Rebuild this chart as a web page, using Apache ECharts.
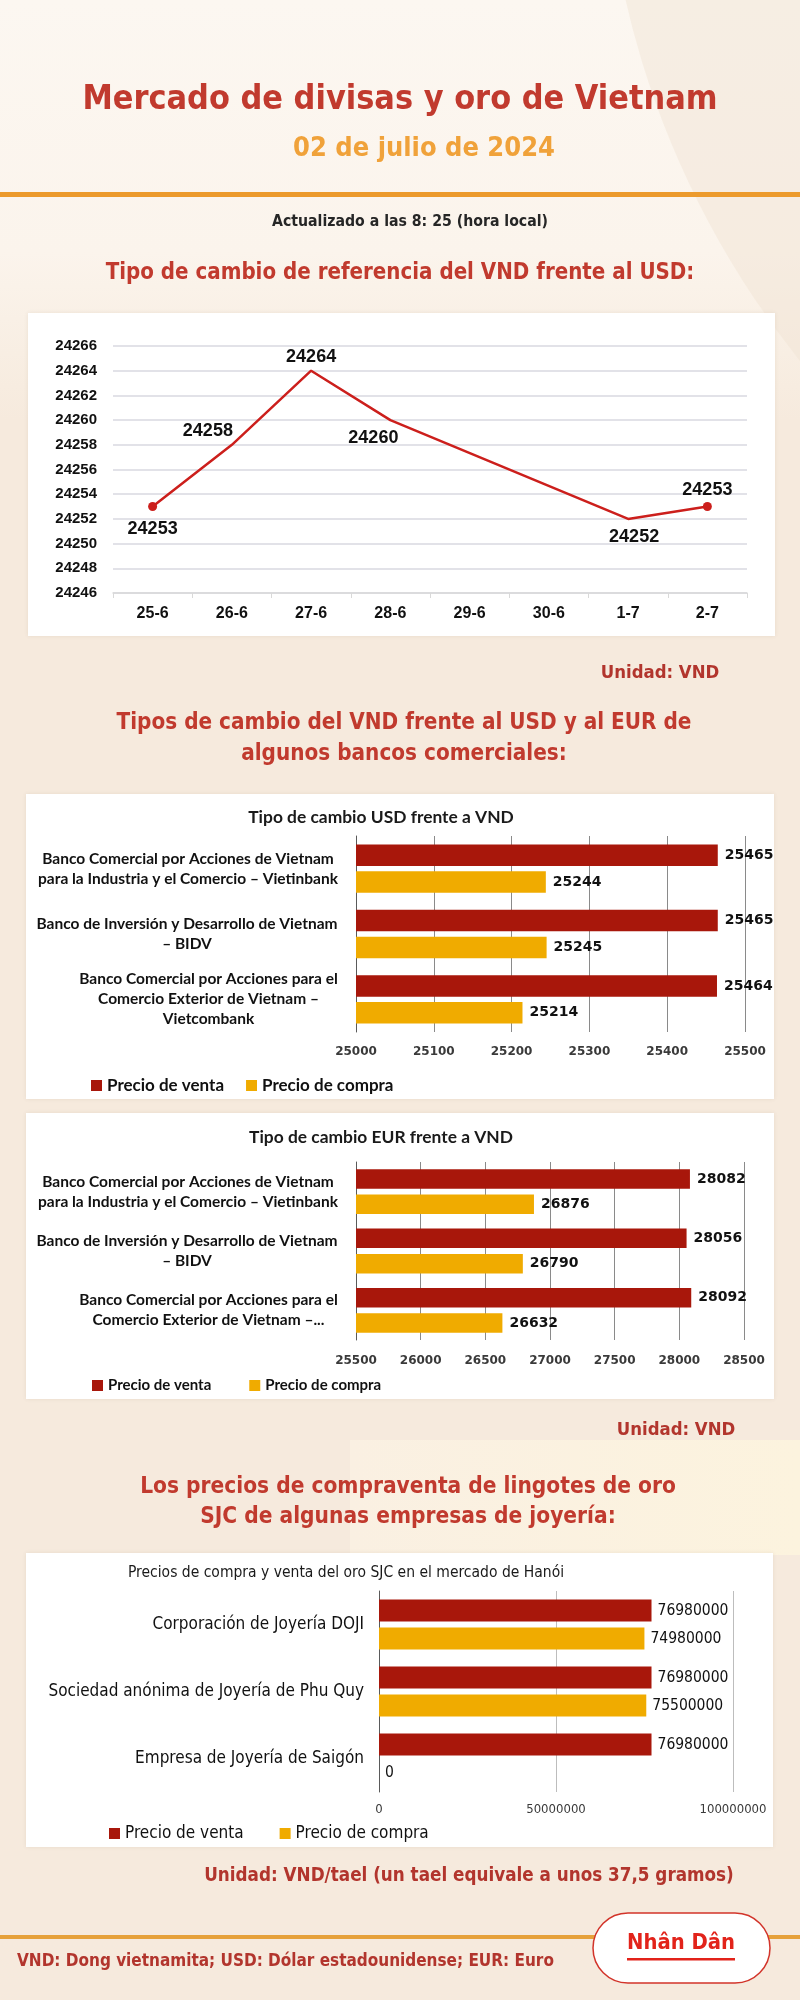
<!DOCTYPE html>
<html>
<head>
<meta charset="utf-8">
<title>Mercado de divisas y oro de Vietnam</title>
<script src="https://cdn.jsdelivr.net/npm/echarts@6/dist/echarts.min.js"></script>
<style>
html, body { margin: 0; padding: 0; background: #f6eadd; }
#main { width: 800px; height: 2000px; }
</style>
</head>
<body>
<div id="main"></div>
<script>
var refDays = ['25-6', '26-6', '27-6', '28-6', '29-6', '30-6', '1-7', '2-7'];
var refRate = [24253, 24258, 24264, 24260, null, null, 24252, 24253];
var refAxis = [24246, 24266, 2];

var banksUsd = [
    'Banco Comercial por Acciones de Vietnam\npara la Industria y el Comercio – Vietinbank',
    'Banco de Inversión y Desarrollo de Vietnam\n– BIDV',
    'Banco Comercial por Acciones para el\nComercio Exterior de Vietnam –\nVietcombank'
];
var usdVenta = [25465, 25465, 25464];
var usdCompra = [25244, 25245, 25214];
var usdAxis = [25000, 25500, 100];

var banksEur = [
    'Banco Comercial por Acciones de Vietnam\npara la Industria y el Comercio – Vietinbank',
    'Banco de Inversión y Desarrollo de Vietnam\n– BIDV',
    'Banco Comercial por Acciones para el\nComercio Exterior de Vietnam –...'
];
var eurVenta = [28082, 28056, 28092];
var eurCompra = [26876, 26790, 26632];
var eurAxis = [25500, 28500, 500];

var goldShops = ['Corporación de Joyería DOJI', 'Sociedad anónima de Joyería de Phu Quy', 'Empresa de Joyería de Saigón'];
var goldVenta = [76980000, 76980000, 76980000];
var goldCompra = [74980000, 75500000, 0];
var goldAxis = [0, 100000000, 50000000];

var seriesNames = ['Precio de venta', 'Precio de compra'];

// ---- fonts ----
var ctx = document.createElement('canvas').getContext('2d');
function hasFont(name) {
    var t = 'abcdefghijklmnopqrstuvwxyz ABCDEFGHIJKLM 0123456789';
    ctx.font = '40px monospace'; var a = ctx.measureText(t).width;
    ctx.font = '40px "' + name + '", monospace'; var b = ctx.measureText(t).width;
    ctx.font = '40px serif'; var c = ctx.measureText(t).width;
    ctx.font = '40px "' + name + '", serif'; var d = ctx.measureText(t).width;
    return a !== b || c !== d;
}
function pickFont(list) {
    for (var i = 0; i < list.length; i++) {
        if (hasFont(list[i])) return list[i];
    }
    return 'sans-serif';
}
var NARROW = pickFont(['Liberation Sans Narrow', 'DejaVu Sans Condensed', 'Roboto Condensed', 'Roboto']);
var ARIAL = pickFont(['Liberation Sans', 'Arimo', 'Roboto']);
var CALIBRI = pickFont(['Lato', 'Open Sans', 'Roboto']);
var VERDANA = pickFont(['DejaVu Sans', 'Noto Sans']);

function textW(txt, font) {
    ctx.font = font;
    return ctx.measureText(txt).width;
}
function fitSize(txt, weight, fam, width, maxSize) {
    var w = textW(txt, weight + ' 100px "' + fam + '"');
    return Math.min(maxSize, Math.floor(1000 * width / w) / 10);
}
function fontStr(weight, size, fam) {
    return weight + ' ' + size + 'px "' + fam + '"';
}
function plain(v) {
    return String(v);
}

var RED_T = '#c13a2e';
var VENTA = '#a8170b';
var COMPRA = '#f0ab00';

function txt(s, x, y, color, weight, fam, size, align) {
    return {
        type: 'text', z: 20,
        style: {
            text: s, x: x, y: y, fill: color,
            font: fontStr(weight, size, fam),
            align: align || 'center', verticalAlign: 'middle'
        }
    };
}
function card(x, y, w, h) {
    return {
        type: 'rect', z: -5,
        shape: {x: x, y: y, width: w, height: h},
        style: {fill: '#ffffff', shadowBlur: 4, shadowColor: 'rgba(120,90,60,0.12)'}
    };
}

// heading sizes
var sTitle = fitSize('Mercado de divisas y oro de Vietnam', 'bold', NARROW, 636, 44);
var sSub = fitSize('02 de julio de 2024', 'bold', NARROW, 262, 34);
var sUpd = fitSize('Actualizado a las 8: 25 (hora local)', 'bold', NARROW, 278, 19);
var sHead = fitSize('Tipo de cambio de referencia del VND frente al USD:', 'bold', NARROW, 590, 28);
var sHead2 = fitSize('Tipos de cambio del VND frente al USD y al EUR de', 'bold', NARROW, 576, 29);
var sHead3 = fitSize('Los precios de compraventa de lingotes de oro', 'bold', NARROW, 538, 29);
var sUnit = fitSize('Unidad: VND', 'bold', NARROW, 119, 24);
var sUnit3 = fitSize('Unidad: VND/tael (un tael equivale a unos 37,5 gramos)', 'bold', NARROW, 532, 26);
var sFoot = fitSize('VND: Dong vietnamita; USD: Dólar estadounidense; EUR: Euro', 'bold', NARROW, 539, 24);
var sLogo = fitSize('Nhân Dân', 'bold', NARROW, 108, 40);
var sChartT = fitSize('Tipo de cambio USD frente a VND', 'bold', CALIBRI, 267, 18);
var sGoldT = fitSize('Precios de compra y venta del oro SJC en el mercado de Hanói', 'normal', NARROW, 437, 17);

var graphics = [
    {type: 'rect', z: -20, shape: {x: 0, y: 0, width: 800, height: 2000}, style: {fill: '#f6eadd'}},
    {type: 'rect', z: -19, shape: {x: 0, y: 0, width: 800, height: 420},
        style: {fill: new echarts.graphic.LinearGradient(0, 0, 0, 1, [
            {offset: 0, color: '#fcf7f1'}, {offset: 0.6, color: '#fbf4ec'}, {offset: 1, color: '#f6eadd'}])}},
    {type: 'circle', z: -18, shape: {cx: 1500, cy: -200, r: 897}, style: {fill: 'rgba(240,226,210,0.45)'}},
    {type: 'rect', z: -17, shape: {x: 350, y: 1440, width: 450, height: 115},
        style: {fill: new echarts.graphic.LinearGradient(0, 0, 1, 0, [
            {offset: 0, color: '#faf0e2'}, {offset: 1, color: '#fcf3de'}])}},
    {type: 'rect', z: 0, shape: {x: 0, y: 192, width: 800, height: 5}, style: {fill: '#ec9a2c'}},
    {type: 'rect', z: 0, shape: {x: 0, y: 1935, width: 800, height: 4}, style: {fill: '#e6a13a'}},
    card(28, 313, 747, 323),
    card(26, 794, 748, 305),
    card(26, 1113, 748, 286),
    card(26, 1553, 747, 294),
    txt('Mercado de divisas y oro de Vietnam', 400, 100, RED_T, 'bold', NARROW, sTitle),
    txt('02 de julio de 2024', 424, 149, '#f0a23a', 'bold', NARROW, sSub),
    txt('Actualizado a las 8: 25 (hora local)', 410, 222, '#262626', 'bold', NARROW, sUpd),
    txt('Tipo de cambio de referencia del VND frente al USD:', 400, 273, RED_T, 'bold', NARROW, sHead),
    txt('Unidad: VND', 660, 673, '#b2352d', 'bold', NARROW, sUnit),
    txt('Tipos de cambio del VND frente al USD y al EUR de', 404, 723, RED_T, 'bold', NARROW, sHead2),
    txt('algunos bancos comerciales:', 404, 754, RED_T, 'bold', NARROW, sHead2),
    txt('Tipo de cambio USD frente a VND', 381, 817, '#1a1a1a', 'bold', CALIBRI, sChartT),
    txt('Tipo de cambio EUR frente a VND', 381, 1137, '#1a1a1a', 'bold', CALIBRI, sChartT),
    txt('Unidad: VND', 676, 1430, '#b2352d', 'bold', NARROW, sUnit),
    txt('Los precios de compraventa de lingotes de oro', 408, 1487, RED_T, 'bold', NARROW, sHead3),
    txt('SJC de algunas empresas de joyería:', 408, 1517, RED_T, 'bold', NARROW, sHead3),
    txt('Precios de compra y venta del oro SJC en el mercado de Hanói', 346, 1573, '#1a1a1a', 'normal', NARROW, sGoldT),
    txt('Unidad: VND/tael (un tael equivale a unos 37,5 gramos)', 469, 1876, '#b2352d', 'bold', NARROW, sUnit3),
    txt('VND: Dong vietnamita; USD: Dólar estadounidense; EUR: Euro', 17, 1962, '#b2352d', 'bold', NARROW, sFoot, 'left'),
    {type: 'rect', z: 10, shape: {x: 593, y: 1913, width: 177, height: 70, r: 35},
        style: {fill: '#ffffff', stroke: '#d2342a', lineWidth: 1.5}},
    txt('Nhân Dân', 681, 1943, '#e2231a', 'bold', NARROW, sLogo),
    {type: 'rect', z: 20, shape: {x: 627, y: 1958, width: 108, height: 2.5}, style: {fill: '#e2231a'}}
];

// category labels: lines centred inside a right-aligned block
function bankLabels(names, fam, weight, size, lineH) {
    var rich = {};
    names.forEach(function (n, i) {
        var w = 0;
        n.split('\n').forEach(function (l) {
            w = Math.max(w, textW(l, fontStr(weight, size, fam)));
        });
        rich['c' + i] = {width: Math.ceil(w) + 2, align: 'center', fontFamily: fam, fontWeight: weight,
            fontSize: size, lineHeight: lineH, color: '#111'};
    });
    return {
        margin: 17,
        rich: rich,
        formatter: function (v, i) {
            return v.split('\n').map(function (l) { return '{c' + i + '|' + l + '}'; }).join('\n');
        }
    };
}

// line labels placement per point
var refLabelStyle = [
    {position: 'bottom', distance: 9},
    {position: 'top', offset: [-24, 0]},
    {position: 'top'},
    {position: 'bottom', distance: 9, offset: [-17, 0]},
    null, null,
    {position: 'bottom', distance: 9, offset: [6, 0]},
    {position: 'top', distance: 3}
];
var lastRef = refRate.length - 1;
var refData = refRate.map(function (v, i) {
    if (v === null) return null;
    return {value: v, label: refLabelStyle[i], symbolSize: (i === 0 || i === lastRef) ? 9 : 0};
});

function valueAxis(grid, ax, fam, weight, size, margin, gridColor) {
    return {
        gridIndex: grid, type: 'value', min: ax[0], max: ax[1], interval: ax[2],
        axisLine: {show: false}, axisTick: {show: false},
        splitLine: {show: true, lineStyle: {color: gridColor, width: 1}},
        axisLabel: {color: '#3a3a3a', fontFamily: fam, fontWeight: weight, fontSize: size, margin: margin,
            formatter: plain}
    };
}
function catAxis(grid, names, labelCfg) {
    return {
        gridIndex: grid, type: 'category', data: names, inverse: true,
        axisLine: {show: true, lineStyle: {color: '#5a5a5a', width: 1}},
        axisTick: {show: false},
        splitLine: {show: false},
        axisLabel: labelCfg
    };
}
function barSeries(name, grid, data, color, barW, gap, lab) {
    return {
        name: name, type: 'bar', xAxisIndex: grid, yAxisIndex: grid, data: data,
        barWidth: barW, barGap: gap,
        itemStyle: {color: color},
        label: Object.assign({show: true, position: 'right', color: '#111'}, lab)
    };
}

var bankLab = {fontFamily: VERDANA, fontWeight: 'bold', fontSize: 14, distance: 7};
var goldLab = {fontFamily: NARROW, fontWeight: 'normal', fontSize: 15.5, distance: 6};

var goldCat = {
    margin: 15, color: '#111', fontFamily: NARROW, fontSize: 17
};

var chart = echarts.init(document.getElementById('main'));
chart.setOption({
    animation: false,
    graphic: graphics,
    grid: [
        {left: 113, top: 346, width: 634, height: 247, outerBoundsMode: 'none'},
        {left: 356, top: 836, width: 389, height: 196, outerBoundsMode: 'none'},
        {left: 356, top: 1162, width: 388, height: 178, outerBoundsMode: 'none'},
        {left: 379, top: 1591, width: 354, height: 201, outerBoundsMode: 'none'}
    ],
    legend: [
        {data: seriesNames, left: 86, top: 1072, icon: 'rect', itemWidth: 11, itemHeight: 11, itemGap: 22,
            textStyle: {fontFamily: CALIBRI, fontWeight: 'bold', fontSize: 17, color: '#111'}},
        {data: seriesNames, left: 87, top: 1373, icon: 'rect', itemWidth: 11, itemHeight: 11, itemGap: 38,
            textStyle: {fontFamily: CALIBRI, fontWeight: 'bold', fontSize: 15, color: '#111'}},
        {data: seriesNames, left: 104, top: 1820, icon: 'rect', itemWidth: 11, itemHeight: 11, itemGap: 36,
            textStyle: {fontFamily: NARROW, fontSize: 17, color: '#111'}}
    ],
    xAxis: [
        {
            gridIndex: 0, type: 'category', data: refDays,
            axisLine: {lineStyle: {color: '#d9d9d9', width: 1.5}},
            axisTick: {show: true, length: 5, lineStyle: {color: '#d9d9d9'}},
            axisLabel: {color: '#111', fontFamily: ARIAL, fontWeight: 'bold', fontSize: 16, margin: 13}
        },
        valueAxis(1, usdAxis, VERDANA, 'bold', 12, 14, '#8a8a8a'),
        valueAxis(2, eurAxis, VERDANA, 'bold', 12, 15, '#8a8a8a'),
        valueAxis(3, goldAxis, NARROW, 'normal', 13, 11, '#bdbdbd')
    ],
    yAxis: [
        {
            gridIndex: 0, type: 'value', min: refAxis[0], max: refAxis[1], interval: refAxis[2],
            axisLine: {show: false}, axisTick: {show: false},
            splitLine: {lineStyle: {color: '#d9d9e0', width: 1.5}},
            axisLabel: {color: '#111', fontFamily: ARIAL, fontWeight: 'bold', fontSize: 15, margin: 16,
                formatter: plain}
        },
        catAxis(1, banksUsd, bankLabels(banksUsd, CALIBRI, 'bold', 15.5, 20)),
        catAxis(2, banksEur, bankLabels(banksEur, CALIBRI, 'bold', 15.5, 20)),
        catAxis(3, goldShops, goldCat)
    ],
    series: [
        {
            name: 'Tipo de cambio', type: 'line', xAxisIndex: 0, yAxisIndex: 0,
            data: refData, connectNulls: true, symbol: 'circle',
            lineStyle: {color: '#cc1f1c', width: 2.5},
            itemStyle: {color: '#cc1f1c'},
            label: {show: true, color: '#111', fontFamily: ARIAL, fontWeight: 'bold', fontSize: 18}
        },
        barSeries(seriesNames[0], 1, usdVenta, VENTA, 21.5, '25%', bankLab),
        barSeries(seriesNames[1], 1, usdCompra, COMPRA, 21.5, '25%', bankLab),
        barSeries(seriesNames[0], 2, eurVenta, VENTA, 19.5, '30%', bankLab),
        barSeries(seriesNames[1], 2, eurCompra, COMPRA, 19.5, '30%', bankLab),
        barSeries(seriesNames[0], 3, goldVenta, VENTA, 22, '27%', goldLab),
        barSeries(seriesNames[1], 3, goldCompra, COMPRA, 22, '27%', goldLab)
    ]
});

window.addEventListener('resize', function () {
    chart.resize();
});
</script>
</body>
</html>
